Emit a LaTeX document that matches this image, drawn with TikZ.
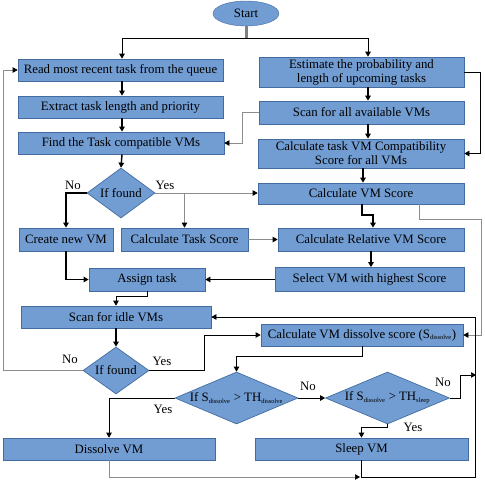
\documentclass[tikz,border=0pt]{standalone}
\usepackage{fontspec}
\setmainfont{Liberation Serif}
\usetikzlibrary{shapes.geometric,arrows.meta}
\definecolor{bf}{RGB}{114,157,211}
\definecolor{bd}{RGB}{66,108,160}
\definecolor{lg}{RGB}{140,140,140}
\newcommand\fs{\fontsize{12.8}{14}\selectfont}
\newcommand\sbs[1]{\textsubscript{\fontsize{6.5}{6.5}\selectfont #1}}
\begin{document}
\begin{tikzpicture}[x=1pt,y=-1pt,
 box/.style={draw=bd,fill=bf,line width=0.7pt,inner sep=0pt,align=center,font=\fs},
 dia/.style={shape=diamond,draw=bd,fill=bf,line width=0.7pt,inner sep=0pt},
 ar/.style={-{Triangle[length=5pt,width=5.5pt,color=black]},line width=0.7pt},
 thk/.style={line width=1.4pt},
 gr/.style={draw=lg},
 lab/.style={font=\fs,inner sep=0pt}]
\useasboundingbox (0,0) rectangle (485,482);

% nodes
\node[ellipse,draw=bd,fill=bf,minimum width=66pt,minimum height=25pt,inner sep=0pt,font=\fs] (start) at (246,13.5) {Start};
\node[box,minimum width=205pt,minimum height=22pt] (b1) at (120.5,70) {Read most recent task from the queue};
\node[box,minimum width=205pt,minimum height=22pt] (b2) at (120.5,107) {Extract task length and priority};
\node[box,minimum width=206pt,minimum height=22pt] (b3) at (121,143) {Find the Task compatible VMs};
\node[box,minimum width=205pt,minimum height=30pt] (est) at (361.5,72) {Estimate the probability and\\length of upcoming tasks};
\node[box,minimum width=205pt,minimum height=23pt] (scanall) at (361.5,112.5) {Scan for all available VMs};
\node[box,minimum width=206pt,minimum height=29pt] (compat) at (361,153.5) {Calculate task VM Compatibility\\Score for all VMs};
\node[box,minimum width=206pt,minimum height=21pt] (calcvm) at (361,193.5) {Calculate VM Score};
\node[dia,minimum width=68pt,minimum height=50pt] (d1) at (121,193) {};
\node[font=\fs] at (d1) {If found};
\node[box,minimum width=94pt,minimum height=23pt] (create) at (66,239.5) {Create new VM};
\node[box,minimum width=127pt,minimum height=23pt] (ctask) at (184.5,239.5) {Calculate Task Score};
\node[box,minimum width=186pt,minimum height=23pt] (crel) at (371,239.5) {Calculate Relative VM Score};
\node[box,minimum width=189pt,minimum height=24pt] (select) at (369.5,279.5) {Select VM with highest Score};
\node[box,minimum width=116pt,minimum height=23pt] (assign) at (147,279.5) {Assign task};
\node[box,minimum width=190pt,minimum height=22pt] (scanidle) at (116,317) {Scan for idle VMs};
\node[box,minimum width=202pt,minimum height=22pt] (dscore) at (362,335) {Calculate VM dissolve score (S\sbs{dissolve})};
\node[dia,minimum width=66pt,minimum height=47pt] (d2) at (116,370.5) {};
\node[font=\fs] at (d2) {If found};
\node[dia,minimum width=123pt,minimum height=52pt] (d3) at (236.5,398) {};
\node[font=\fs] at (d3) {If S\sbs{dissolve} > TH\sbs{dissolve}};
\node[dia,minimum width=124pt,minimum height=52pt] (d4) at (387.5,398) {};
\node[font=\fs] at (d4) {If S\sbs{dissolve} > TH\sbs{sleep}};
\node[box,minimum width=212pt,minimum height=22pt] (dissolve) at (109,449) {Dissolve VM};
\node[box,minimum width=213pt,minimum height=22pt] (sleep) at (361.5,449) {Sleep VM};

% connectors
\coordinate (j0) at (246,38);
\draw[line width=3pt,draw=gray] (start.south) -- (j0);
\draw[ar,line width=1pt] (j0) -| ([xshift=1.5pt]b1.north);
\draw[ar,line width=1pt] (j0) -| ([xshift=6.5pt]est.north);
\draw[ar,thk] ([xshift=1.5pt]b1.south) -- ([xshift=1.5pt]b2.north);
\draw[ar,thk] ([xshift=1.5pt]b2.south) -- ([xshift=1pt]b3.north);
\draw[ar,thk] ([xshift=1pt]b3.south) -- (d1.north);
\draw[ar,thk] ([xshift=6.5pt]est.south) -- ([xshift=6.5pt]scanall.north);
\draw[ar,thk] ([xshift=6.5pt]scanall.south) -- ([xshift=7pt]compat.north);
\draw[ar,thk] ([xshift=2pt]compat.south) -- ([xshift=2pt]calcvm.north);
\draw[ar] (est.east) -- (480,72) |- (compat.east);
\draw[ar,gr] (scanall.west) -- (242,112.5) |- (b3.east);
\draw[ar,thk] (d1.west) -| (create.north);
\draw[ar,gr] (d1.east) -- (d1.east -| calcvm.west);
\draw[ar,gr] (d1.east -| ctask.north) -- (ctask.north);
\draw[ar,gr] (ctask.east) -- (crel.west);
\draw[ar,thk] ([xshift=1pt]calcvm.south) -- (362,215) -| ([xshift=2pt]crel.north);
\draw[ar,thk] (crel.south) -- (crel.south |- select.north);
\draw[ar,thk] (create.south) |- (assign.west);
\draw[ar] (select.west) -- (assign.east);
\draw[ar] (assign.south) -- (147,296) -| (scanidle.north);
\draw[ar,thk] (scanidle.south) -- (d2.north);
\draw[ar,gr] (d2.west) -| (3,70) -- (b1.west);
\draw[ar] (d2.east) -- (204,370.5) |- (dscore.west);
\draw[ar,gr] ([xshift=58pt]calcvm.south) |- (481,219) |- (dscore.east);
\draw[ar] (dscore.south) -- (362,356) -| (d3.north);
\draw[ar] (d3.west) -| (dissolve.north);
\draw[ar] (d3.east) -- (d4.west);
\draw[ar] (d4.south) -- ++(0,3) -| (sleep.north);
\draw[ar] (d4.east) -- (460,398) |- (476,375);
\draw[ar,gr] (dissolve.south) |- (360,477);
\draw[ar] (sleep.south) |- (475,477) |- (scanidle.east);

% labels
\node[lab] at (73,185) {No};
\node[lab] at (165,185) {Yes};
\node[lab] at (70,359) {No};
\node[lab] at (162,361) {Yes};
\node[lab] at (163,409) {Yes};
\node[lab] at (308,386) {No};
\node[lab] at (413,427) {Yes};
\node[lab] at (443,382) {No};
\end{tikzpicture}
\end{document}
